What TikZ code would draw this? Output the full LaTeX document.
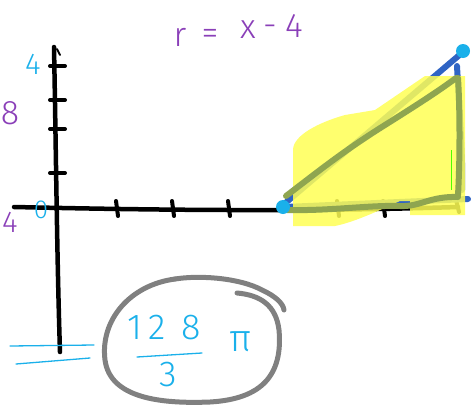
\documentclass[tikz,border=0pt]{standalone}
\usepackage{fontspec}
\setmainfont{Fira Sans}[UprightFont={* Light}]
\definecolor{inkcyan}{HTML}{1AB0EA}
\definecolor{inkpurple}{HTML}{8A3FB8}
\definecolor{inkblue}{HTML}{2F64C4}
\definecolor{hlyellow}{HTML}{FFFF55}
\definecolor{hlgreen}{HTML}{8FA550}
\definecolor{inkgray}{HTML}{808080}
\tikzset{
  axis/.style={line width=4.5pt, black, line cap=round, line join=round},
  tickmark/.style={line width=4pt, black, line cap=round},
  bluestroke/.style={line width=6pt, inkblue, line cap=round, line join=round},
  greenstroke/.style={line width=6pt, hlgreen, line cap=round, line join=round},
  cyanline/.style={line width=1.3pt, inkcyan, line cap=round},
  hand/.style={inner sep=0pt, font=\fontsize{30}{30}\selectfont},
  titletext/.style={hand, text=inkpurple, font=\fontsize{34}{34}\selectfont},
}
\begin{document}
\begin{tikzpicture}[x=1pt,y=-1pt]
\useasboundingbox (0,0) rectangle (471,407);
% axes
\draw[axis] (54,47) .. controls (56,150) and (57,260) .. (60,352);
\draw[axis] (14,207) .. controls (150,210) and (300,212) .. (458,207);
\draw[line width=2pt,line cap=round] (57,49) -- (60,55);
% y ticks
\foreach \yy in {66,100,129,173} \draw[tickmark] (50,\yy) -- (65,\yy);
% x ticks
\foreach \xx in {116,172,228,337,383} \draw[tickmark] (\xx,201) -- (\xx+2,216);
\draw[tickmark] (456,200) -- (459,212);
% title
\node[titletext, anchor=base] (tr) at (180,46) {r};
\node[titletext, anchor=base] (teq) at (210,44) {=};
\node[titletext, anchor=base] (tx) at (248,38) {x};
\node[titletext, anchor=base] (tm) at (270,36) {-};
\node[titletext, anchor=base] (t4) at (294,37) {4};
% axis labels
\node[hand, text=inkcyan, font=\fontsize{30}{30}\selectfont] (lab4) at (33,64) {4};
\node[hand, text=inkpurple, font=\fontsize{34}{34}\selectfont] (lab8) at (10,113) {8};
\node[hand, text=inkpurple, font=\fontsize{30}{30}\selectfont] (labm) at (10,222) {4};
\node[hand, text=inkcyan, font=\fontsize{26}{26}\selectfont] (lab0) at (41,210) {0};
% blue triangle
\draw[bluestroke] (283,205) -- (463,52);
\draw[bluestroke] (457,66) .. controls (460,120) and (463,160) .. (462,190);
\draw[bluestroke] (285,207) -- (468,199);
% yellow highlighter
\fill[hlyellow, opacity=0.85] (293,150) .. controls (293,135) and (320,122) .. (345,115)
  -- (375,110) -- (425,76) -- (465,76) -- (465,215) -- (410,215) -- (410,201)
  -- (400,201) .. controls (380,210) and (355,222) .. (335,226) -- (293,226) -- cycle;
% green overstrokes
\draw[greenstroke] (286,196) .. controls (320,170) and (345,150) .. (385,125)
  .. controls (420,103) and (440,90) .. (456,78);
\draw[greenstroke] (458,78) .. controls (460,110) and (460,160) .. (458,195);
\draw[line width=0.6pt, green!70!yellow] (451,150) -- (451,190);
\draw[greenstroke] (287,210) .. controls (330,211) and (370,205) .. (400,206)
  .. controls (420,207) and (430,196) .. (458,197);
% endpoints
\fill[inkcyan] (283,207) circle[radius=7pt];
\fill[inkcyan] (463,51) circle[radius=7pt];
% answer
\draw[cyanline] (10,346) -- (94,345);
\draw[cyanline] (16,364) -- (90,358);
\node[hand, text=inkcyan, font=\fontsize{36}{36}\selectfont] (num) at (164,328) {1\,2\,\;8};
\draw[cyanline] (137,357) -- (202,353);
\node[hand, text=inkcyan, font=\fontsize{36}{36}\selectfont] (den) at (168,375) {3};
\node[hand, text=inkcyan, font=\fontsize{38}{38}\selectfont] (pi) at (241,342) {π};
\draw[line width=5pt, inkgray, line cap=round]
  (175,279) .. controls (130,285) and (100,320) .. (105,360)
  .. controls (110,398) and (160,404) .. (210,402)
  .. controls (262,399) and (283,375) .. (279,330)
  .. controls (276,305) and (260,295) .. (237,293);
\draw[line width=5pt, inkgray, line cap=round]
  (175,279) .. controls (200,275) and (240,278) .. (262,290)
  .. controls (275,296) and (283,303) .. (284,310);
\end{tikzpicture}
\end{document}
